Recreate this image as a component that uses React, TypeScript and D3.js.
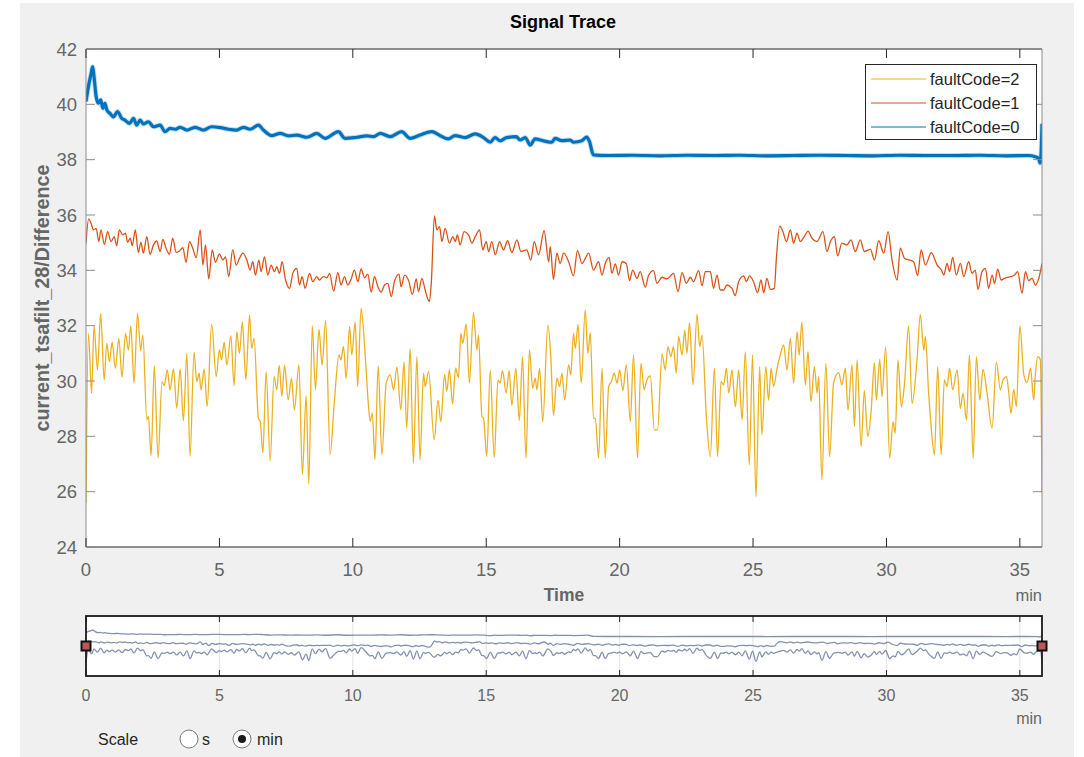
import React from 'react';
import * as d3 from 'd3';

// time (min), value pairs
const code2: [number, number][] = [
  [0, 25.6], [0.09, 31.72], [0.21, 29.56], [0.3, 32.0], [0.43, 30.4], [0.55, 32.44], [0.68, 30.04], [0.78, 31.36],
  [0.88, 30.7], [0.98, 31.4], [1.1, 30.46], [1.23, 31.54], [1.35, 30.14], [1.48, 31.72], [1.59, 31.12], [1.68, 32.0],
  [1.8, 29.92], [1.93, 32.44], [2.05, 31.1], [2.13, 31.66], [2.28, 28.6], [2.34, 28.72], [2.44, 27.3], [2.56, 30.55],
  [2.7, 27.22], [2.85, 29.98], [2.93, 29.83], [3.05, 30.4], [3.15, 29.68], [3.28, 30.44], [3.4, 29.02], [3.53, 30.44],
  [3.65, 28.56], [3.78, 31.0], [3.9, 27.28], [4.05, 31.04], [4.15, 29.98], [4.24, 30.28], [4.31, 29.68], [4.43, 30.44],
  [4.54, 29.08], [4.71, 32.05], [4.88, 30.16], [5.0, 31.12], [5.08, 30.76], [5.18, 31.4], [5.28, 30.58], [5.43, 31.64],
  [5.55, 29.83], [5.65, 31.78], [5.75, 31.0], [5.86, 32.14], [5.99, 30.04], [6.13, 32.38], [6.21, 31.18], [6.3, 31.54],
  [6.46, 28.66], [6.53, 28.54], [6.63, 27.4], [6.75, 30.34], [6.9, 27.1], [7.05, 30.16], [7.15, 29.68], [7.24, 30.56],
  [7.34, 29.44], [7.44, 30.56], [7.58, 29.32], [7.7, 30.1], [7.81, 28.96], [7.98, 30.58], [8.11, 26.62], [8.25, 29.47],
  [8.35, 26.26], [8.48, 32.0], [8.6, 29.68], [8.73, 31.87], [8.85, 30.58], [8.98, 32.18], [9.15, 27.34], [9.3, 29.14],
  [9.48, 30.94], [9.55, 30.76], [9.65, 31.24], [9.75, 30.1], [9.88, 31.96], [9.96, 30.94], [10.09, 32.14], [10.18, 29.8],
  [10.31, 32.62], [10.46, 31.0], [10.59, 29.08], [10.65, 28.54], [10.73, 28.84], [10.83, 27.16], [10.95, 30.55], [11.09, 27.34],
  [11.25, 29.92], [11.4, 30.22], [11.53, 29.68], [11.65, 30.5], [11.8, 28.96], [11.92, 30.68], [12.02, 28.29], [12.15, 31.18],
  [12.27, 27.02], [12.4, 30.88], [12.52, 27.15], [12.65, 30.28], [12.71, 29.8], [12.84, 30.34], [13.05, 27.87], [13.19, 29.31],
  [13.3, 28.53], [13.44, 30.25], [13.52, 29.62], [13.62, 30.4], [13.74, 29.17], [13.85, 30.46], [13.96, 30.12], [14.05, 31.72],
  [14.12, 31.36], [14.25, 32.06], [14.37, 29.92], [14.52, 32.47], [14.65, 31.12], [14.71, 31.66], [14.84, 28.71], [14.9, 28.65],
  [15.02, 27.27], [15.15, 30.4], [15.3, 27.24], [15.44, 30.04], [15.52, 29.92], [15.61, 30.37], [15.75, 29.56], [15.86, 30.37],
  [15.96, 29.13], [16.11, 30.46], [16.24, 28.57], [16.36, 30.88], [16.49, 27.21], [16.62, 31.12], [16.74, 29.74], [16.84, 30.1],
  [16.9, 29.68], [17.0, 30.46], [17.12, 28.53], [17.31, 32.03], [17.42, 30.88], [17.52, 28.77], [17.65, 30.1], [17.75, 29.8],
  [17.84, 30.28], [17.94, 29.31], [18.09, 30.58], [18.17, 30.22], [18.27, 31.72], [18.34, 31.18], [18.44, 32.05], [18.56, 29.92],
  [18.71, 32.57], [18.81, 31.0], [18.9, 31.75], [19.02, 28.65], [19.09, 28.65], [19.21, 27.21], [19.34, 30.46], [19.46, 27.21],
  [19.59, 29.8], [19.69, 29.98], [19.8, 30.28], [19.9, 29.92], [20.0, 30.4], [20.12, 29.65], [20.25, 30.58], [20.4, 28.53],
  [20.52, 30.94], [20.67, 27.21], [20.8, 30.64], [20.92, 29.68], [21.02, 30.04], [21.15, 30.18], [21.3, 28.23], [21.42, 28.23],
  [21.59, 30.98], [21.71, 30.4], [21.81, 31.24], [21.92, 30.88], [22.02, 31.24], [22.12, 30.28], [22.21, 31.6], [22.34, 30.94],
  [22.44, 31.84], [22.52, 31.0], [22.62, 32.11], [22.75, 29.86], [22.9, 32.41], [23.0, 31.24], [23.09, 31.66], [23.25, 28.71],
  [23.4, 27.27], [23.55, 30.46], [23.67, 27.27], [23.8, 29.98], [23.9, 29.86], [24.0, 30.46], [24.09, 29.56], [24.21, 30.4],
  [24.34, 29.07], [24.46, 30.4], [24.59, 28.59], [24.71, 31.06], [24.86, 26.96], [24.98, 30.94], [25.11, 25.82], [25.25, 30.52],
  [25.33, 28.05], [25.48, 30.52], [25.58, 29.31], [25.68, 30.46], [25.77, 29.8], [25.9, 30.46], [26.02, 30.94], [26.15, 31.3],
  [26.27, 30.4], [26.4, 31.54], [26.52, 29.92], [26.65, 31.78], [26.73, 30.94], [26.83, 32.12], [26.96, 29.86], [27.06, 31.06],
  [27.17, 29.25], [27.3, 30.52], [27.4, 29.56], [27.46, 30.16], [27.58, 26.42], [27.73, 30.64], [27.87, 27.27], [28.02, 29.94],
  [28.21, 30.3], [28.33, 29.86], [28.46, 30.46], [28.56, 28.95], [28.71, 30.58], [28.8, 28.35], [28.9, 30.76], [29.05, 27.63],
  [29.17, 29.65], [29.3, 27.99], [29.42, 28.83], [29.55, 30.66], [29.62, 29.31], [29.75, 30.78], [29.83, 29.44], [29.97, 31.22],
  [30.12, 27.21], [30.25, 28.53], [30.33, 28.11], [30.43, 30.76], [30.56, 29.07], [30.68, 29.94], [30.83, 31.99], [30.96, 29.19],
  [31.15, 30.82], [31.27, 32.41], [31.4, 31.12], [31.46, 31.6], [31.58, 29.56], [31.65, 28.65], [31.8, 27.33], [31.92, 30.52],
  [32.05, 27.33], [32.17, 30.04], [32.27, 29.8], [32.37, 30.46], [32.48, 29.68], [32.65, 30.4], [32.77, 29.01], [32.87, 29.56],
  [33.0, 28.59], [33.11, 30.94], [33.25, 27.21], [33.37, 30.88], [33.5, 29.31], [33.62, 30.42], [33.77, 29.56], [33.96, 28.29],
  [34.12, 30.68], [34.27, 29.68], [34.37, 30.04], [34.5, 30.16], [34.58, 29.62], [34.67, 28.83], [34.77, 29.7], [34.87, 29.07],
  [35.0, 31.99], [35.15, 30.22], [35.27, 29.94], [35.4, 30.46], [35.52, 29.31], [35.58, 30.22], [35.68, 30.88], [35.77, 30.76],
  [35.83, 25.94],
];

const code1: [number, number][] = [
  [0, 34.98], [0.1, 35.86], [0.19, 35.7], [0.28, 35.46], [0.38, 35.52], [0.48, 35.04], [0.56, 35.46], [0.69, 34.94],
  [0.81, 35.4], [0.94, 35.04], [1.06, 35.22], [1.15, 34.89], [1.25, 35.46], [1.38, 35.28], [1.48, 35.34], [1.56, 35.01],
  [1.66, 35.16], [1.73, 34.89], [1.85, 35.46], [1.96, 34.65], [2.06, 35.01], [2.15, 34.62], [2.28, 35.22], [2.4, 34.58],
  [2.53, 34.92], [2.65, 35.06], [2.78, 34.68], [2.88, 35.12], [3.0, 34.8], [3.13, 34.58], [3.25, 35.16], [3.38, 34.65],
  [3.5, 34.7], [3.63, 34.82], [3.75, 34.29], [3.88, 35.04], [4.0, 34.8], [4.13, 34.46], [4.28, 35.46], [4.38, 34.19],
  [4.48, 34.92], [4.6, 33.69], [4.73, 34.74], [4.85, 34.29], [5.0, 34.59], [5.13, 34.37], [5.23, 34.49], [5.35, 33.77],
  [5.5, 34.74], [5.63, 34.19], [5.75, 34.43], [5.88, 34.62], [6.03, 34.37], [6.15, 34.01], [6.25, 34.31], [6.35, 33.83],
  [6.48, 34.37], [6.56, 33.95], [6.69, 34.49], [6.81, 33.83], [6.94, 34.19], [7.06, 33.95], [7.15, 34.13], [7.25, 33.89],
  [7.35, 34.31], [7.48, 33.65], [7.63, 33.35], [7.75, 33.89], [7.9, 34.07], [8.0, 33.47], [8.1, 33.77], [8.21, 33.35],
  [8.38, 33.89], [8.5, 33.59], [8.65, 33.77], [8.75, 33.65], [8.9, 33.77], [9.03, 33.73], [9.13, 33.89], [9.28, 33.25],
  [9.44, 33.92], [9.56, 33.47], [9.69, 33.77], [9.81, 33.47], [9.94, 33.69], [10.06, 34.01], [10.19, 33.59], [10.31, 34.05],
  [10.44, 33.73], [10.56, 33.86], [10.69, 33.21], [10.81, 33.77], [10.94, 33.41], [11.06, 33.21], [11.19, 33.47], [11.31, 33.53],
  [11.44, 33.05], [11.56, 33.59], [11.73, 33.86], [11.81, 33.41], [11.94, 33.83], [12.1, 33.61], [12.23, 33.13], [12.38, 33.69],
  [12.46, 33.23], [12.59, 33.71], [12.71, 33.29], [12.87, 32.87], [12.94, 33.53], [13.06, 35.97], [13.15, 35.46], [13.25, 35.58],
  [13.34, 35.04], [13.46, 35.52], [13.62, 34.98], [13.75, 35.22], [13.84, 35.04], [13.92, 35.28], [14.02, 34.92], [14.17, 35.4],
  [14.34, 35.28], [14.46, 34.98], [14.59, 35.22], [14.75, 35.46], [14.87, 34.74], [15.0, 35.04], [15.09, 34.68], [15.21, 35.04],
  [15.34, 34.56], [15.5, 35.04], [15.65, 34.74], [15.8, 35.07], [15.96, 34.64], [16.15, 35.1], [16.3, 34.68], [16.52, 34.74],
  [16.67, 34.37], [16.8, 35.04], [16.96, 34.56], [17.17, 35.43], [17.34, 34.31], [17.4, 34.86], [17.52, 33.68], [17.65, 34.62],
  [17.77, 34.25], [17.9, 34.62], [18.09, 34.31], [18.27, 33.8], [18.42, 34.71], [18.59, 34.25], [18.84, 34.62], [19.02, 34.01],
  [19.21, 34.31], [19.34, 33.83], [19.46, 34.25], [19.61, 34.47], [19.71, 33.89], [19.84, 34.23], [19.96, 33.83], [20.09, 34.31],
  [20.25, 34.25], [20.37, 33.63], [20.49, 34.01], [20.65, 33.71], [20.77, 33.95], [20.96, 33.39], [21.09, 33.83], [21.27, 33.99],
  [21.4, 33.53], [21.59, 33.75], [21.77, 33.69], [22.02, 33.89], [22.19, 33.23], [22.34, 33.92], [22.5, 33.53], [22.65, 33.75],
  [22.77, 33.59], [22.96, 33.99], [23.09, 33.44], [23.21, 33.95], [23.4, 33.95], [23.52, 33.35], [23.65, 33.83], [23.77, 33.29],
  [23.9, 33.29], [24.02, 33.47], [24.21, 33.35], [24.33, 33.09], [24.46, 33.59], [24.65, 33.8], [24.75, 33.59], [24.87, 33.8],
  [25.02, 33.59], [25.17, 33.19], [25.3, 33.65], [25.4, 33.19], [25.52, 33.71], [25.65, 33.31], [25.8, 33.35], [25.87, 34.37],
  [26.0, 35.6], [26.12, 35.4], [26.25, 35.04], [26.4, 35.46], [26.52, 34.98], [26.65, 35.34], [26.77, 35.04], [26.92, 35.22],
  [27.06, 35.42], [27.21, 35.16], [27.4, 35.04], [27.62, 35.4], [27.77, 34.68], [27.9, 35.04], [28.05, 35.22], [28.17, 34.52],
  [28.33, 34.98], [28.52, 34.92], [28.67, 35.1], [28.83, 34.68], [29.02, 35.1], [29.17, 34.68], [29.4, 34.76], [29.55, 34.37],
  [29.71, 35.07], [29.9, 34.62], [30.06, 35.4], [30.21, 34.37], [30.4, 33.65], [30.52, 34.8], [30.68, 34.43], [30.87, 34.37],
  [31.02, 34.31], [31.17, 33.81], [31.3, 34.74], [31.46, 34.19], [31.68, 34.64], [31.9, 34.19], [32.06, 34.01], [32.15, 33.83],
  [32.27, 34.25], [32.37, 33.95], [32.48, 34.47], [32.62, 33.83], [32.77, 34.25], [32.9, 33.77], [33.08, 34.31], [33.21, 33.89],
  [33.33, 34.01], [33.43, 33.31], [33.58, 33.95], [33.71, 34.07], [33.83, 33.35], [33.96, 33.83], [34.05, 33.53], [34.17, 34.04],
  [34.3, 33.65], [34.42, 33.71], [34.65, 33.77], [34.8, 33.83], [34.92, 33.95], [35.08, 33.17], [35.21, 33.95], [35.33, 33.63],
  [35.46, 33.71], [35.58, 33.47], [35.71, 33.71], [35.83, 34.25],
];

const code0: [number, number][] = [
  [0, 40.1], [0.09, 40.64], [0.18, 41.06], [0.25, 41.36], [0.3, 41.0], [0.38, 40.28], [0.46, 40.04], [0.55, 40.16],
  [0.63, 39.86], [0.71, 40.04], [0.78, 39.8], [0.9, 39.67], [1.03, 39.55], [1.18, 39.74], [1.34, 39.49], [1.46, 39.43],
  [1.63, 39.31], [1.78, 39.49], [1.9, 39.25], [2.03, 39.43], [2.15, 39.29], [2.34, 39.37], [2.53, 39.19], [2.78, 39.25],
  [2.96, 39.01], [3.15, 39.13], [3.34, 39.1], [3.53, 39.17], [3.78, 39.07], [4.09, 39.17], [4.4, 39.07], [4.71, 39.19],
  [5.03, 39.16], [5.34, 39.1], [5.65, 39.07], [5.9, 39.17], [6.15, 39.1], [6.46, 39.25], [6.65, 39.07], [6.96, 38.87],
  [7.28, 38.95], [7.59, 38.86], [7.9, 38.89], [8.28, 38.81], [8.65, 38.95], [8.96, 38.77], [9.46, 39.01], [9.71, 38.77],
  [10.15, 38.81], [10.53, 38.86], [10.78, 38.83], [11.03, 38.95], [11.4, 38.83], [11.83, 39.01], [12.15, 38.77], [12.52, 38.89],
  [12.96, 39.01], [13.27, 38.87], [13.58, 38.75], [13.83, 38.87], [14.21, 38.8], [14.58, 38.93], [14.9, 38.8], [15.15, 38.63],
  [15.33, 38.8], [15.52, 38.68], [15.77, 38.8], [16.12, 38.83], [16.27, 38.71], [16.46, 38.8], [16.65, 38.53], [16.83, 38.75],
  [17.15, 38.68], [17.46, 38.63], [17.58, 38.77], [17.83, 38.69], [18.15, 38.71], [18.27, 38.63], [18.58, 38.68], [18.77, 38.82],
  [18.87, 38.65], [19.02, 38.17], [19.5, 38.15], [20.5, 38.16], [21.5, 38.14], [22.5, 38.16], [23.5, 38.15], [24.5, 38.16],
  [25.5, 38.14], [26.5, 38.15], [27.5, 38.16], [28.5, 38.15], [29.5, 38.14], [30.5, 38.16], [31.5, 38.15], [32.5, 38.15],
  [33.5, 38.16], [34.5, 38.14], [35.3, 38.15], [35.6, 38.1], [35.7, 38.05], [35.76, 37.88], [35.8, 38.3], [35.83, 39.3],
];

const series = [
  { name: 'faultCode=2', data: code2, color: '#EDB120', width: 1.3 },
  { name: 'faultCode=1', data: code1, color: '#D95319', width: 1.3 },
  { name: 'faultCode=0', data: code0, color: '#0072BD', width: 3.2 },
];

const yTicks = [24, 26, 28, 30, 32, 34, 36, 38, 40, 42];
const xTicks = [0, 5, 10, 15, 20, 25, 30, 35];

const FONT = '"Liberation Sans", Arial, Helvetica, sans-serif';
const LABEL = '#666666';

export default function App() {
  const x = d3.scaleLinear().domain([0, 35.83]).range([86, 1042]);
  const y = d3.scaleLinear().domain([24, 42]).range([547, 49]);
  const yo = d3.scaleLinear().domain([18.6, 48.3]).range([676, 616]);

  const line = d3.line<[number, number]>().x(d => x(d[0])).y(d => y(d[1])).curve(d3.curveMonotoneX);
  const lineO = d3.line<[number, number]>().x(d => x(d[0])).y(d => yo(d[1])).curve(d3.curveMonotoneX);

  const [x0, x1] = x.range();
  const [yb, yt] = y.range();

  return (
    <div style={{ position: 'absolute', left: 0, top: 0 }}>
      <svg width={1084} height={757} style={{ display: 'block', fontFamily: FONT }}>
        <rect x={0} y={0} width={1084} height={757} fill="#ffffff" />
        <rect x={20} y={3} width={1054} height={754} fill="#f0f0f0" />

        <text x={563} y={28} textAnchor="middle" fontSize={18} fontWeight="bold" fill="#000">Signal Trace</text>

        {/* main axes */}
        <defs>
          <clipPath id="clipMain"><rect x={x0} y={yt} width={x1 - x0} height={yb - yt} /></clipPath>
        </defs>
        <rect x={x0} y={yt} width={x1 - x0} height={yb - yt} fill="#fff" />
        <g clipPath="url(#clipMain)">
          {/* faint halo for the noisy blue trace */}
          <path d={line(code0) || ''} fill="none" stroke="#0072BD" strokeOpacity={0.25} strokeWidth={5} strokeLinejoin="round" />
          {series.map(s => (
            <path key={s.name} d={line(s.data) || ''} fill="none" stroke={s.color} strokeWidth={s.width} strokeLinejoin="round" />
          ))}
        </g>
        {/* box */}
        <line x1={x0} x2={x1} y1={yt} y2={yt} stroke="#262626" strokeWidth={1} />
        <line x1={x0} x2={x1} y1={yb} y2={yb} stroke="#262626" strokeWidth={1} />
        <line x1={x0} x2={x0} y1={yt} y2={yb} stroke="#8c8c8c" strokeWidth={1} />
        <line x1={x1} x2={x1} y1={yt} y2={yb} stroke="#8c8c8c" strokeWidth={1} />
        {xTicks.map(t => (
          <g key={'xt' + t}>
            <line x1={x(t)} x2={x(t)} y1={yb} y2={yb - 9} stroke="#262626" />
            <line x1={x(t)} x2={x(t)} y1={yt} y2={yt + 9} stroke="#262626" />
            <text x={x(t)} y={576} textAnchor="middle" fontSize={18.5} fill={LABEL}>{t}</text>
          </g>
        ))}
        {yTicks.map(t => (
          <g key={'yt' + t}>
            <line x1={x0} x2={x0 + 9} y1={y(t)} y2={y(t)} stroke="#8c8c8c" />
            <line x1={x1} x2={x1 - 9} y1={y(t)} y2={y(t)} stroke="#8c8c8c" />
            <text x={77} y={y(t)} dy="0.36em" textAnchor="end" fontSize={18.5} fill={LABEL}>{t}</text>
          </g>
        ))}
        <text x={(x0 + x1) / 2} y={601} textAnchor="middle" fontSize={17.5} fontWeight="bold" fill={LABEL}>Time</text>
        <text x={x1} y={601} textAnchor="end" fontSize={16.5} fill={LABEL}>min</text>
        <text transform={`translate(49,${(yt + yb) / 2}) rotate(-90)`} textAnchor="middle" fontSize={19.8} fontWeight="bold" fill={LABEL}>
          current_tsafilt_28/Difference
        </text>

        {/* legend */}
        <rect x={865.5} y={64.5} width={171} height={75} fill="#fff" stroke="#262626" strokeWidth={1} />
        {series.map((s, i) => (
          <g key={'lg' + s.name} transform={`translate(0,${79 + i * 24})`}>
            <line x1={871} x2={926} y1={0} y2={0} stroke={s.color} strokeWidth={1} />
            <text x={930} y={0} dy="0.36em" fontSize={16.5} fill="#262626">{s.name}</text>
          </g>
        ))}

        {/* overview panel */}
        <defs>
          <clipPath id="clipOv"><rect x={x0} y={616} width={x1 - x0} height={60} /></clipPath>
        </defs>
        <rect x={x0} y={616} width={x1 - x0} height={60} fill="#fff" />
        {xTicks.map(t => (
          <line key={'og' + t} x1={x(t)} x2={x(t)} y1={616} y2={676} stroke="#e3e3e3" />
        ))}
        <g clipPath="url(#clipOv)">
          {series.map(s => (
            <path key={'o' + s.name} d={lineO(s.data) || ''} fill="none" stroke="#7585a8" strokeOpacity={0.9} strokeWidth={1.3} />
          ))}
        </g>
        {xTicks.map(t => (
          <g key={'ot' + t}>
            <line x1={x(t)} x2={x(t)} y1={676} y2={670} stroke="#262626" />
            <line x1={x(t)} x2={x(t)} y1={616} y2={622} stroke="#262626" />
            <text x={x(t)} y={701} textAnchor="middle" fontSize={16} fill={LABEL}>{t}</text>
          </g>
        ))}
        <rect x={x0} y={616} width={x1 - x0} height={60} fill="none" stroke="#1a1a1a" strokeWidth={1.8} />
        <text x={x1} y={724} textAnchor="end" fontSize={16} fill={LABEL}>min</text>
        {[x0, x1].map(px => (
          <rect key={'h' + px} x={px - 4.5} y={641.5} width={9} height={9} fill="#b8585a" stroke="#111" strokeWidth={2} />
        ))}

        {/* scale selector */}
        <text x={98} y={745} fontSize={16} fill="#262626">Scale</text>
        <circle cx={189} cy={739} r={9} fill="#fff" stroke="#7a7a7a" strokeWidth={1} />
        <text x={202} y={745} fontSize={16} fill="#262626">s</text>
        <circle cx={242} cy={739} r={9} fill="#fff" stroke="#7a7a7a" strokeWidth={1} />
        <circle cx={242} cy={739} r={4} fill="#1a1a1a" />
        <text x={257} y={745} fontSize={16} fill="#262626">min</text>
      </svg>
    </div>
  );
}
